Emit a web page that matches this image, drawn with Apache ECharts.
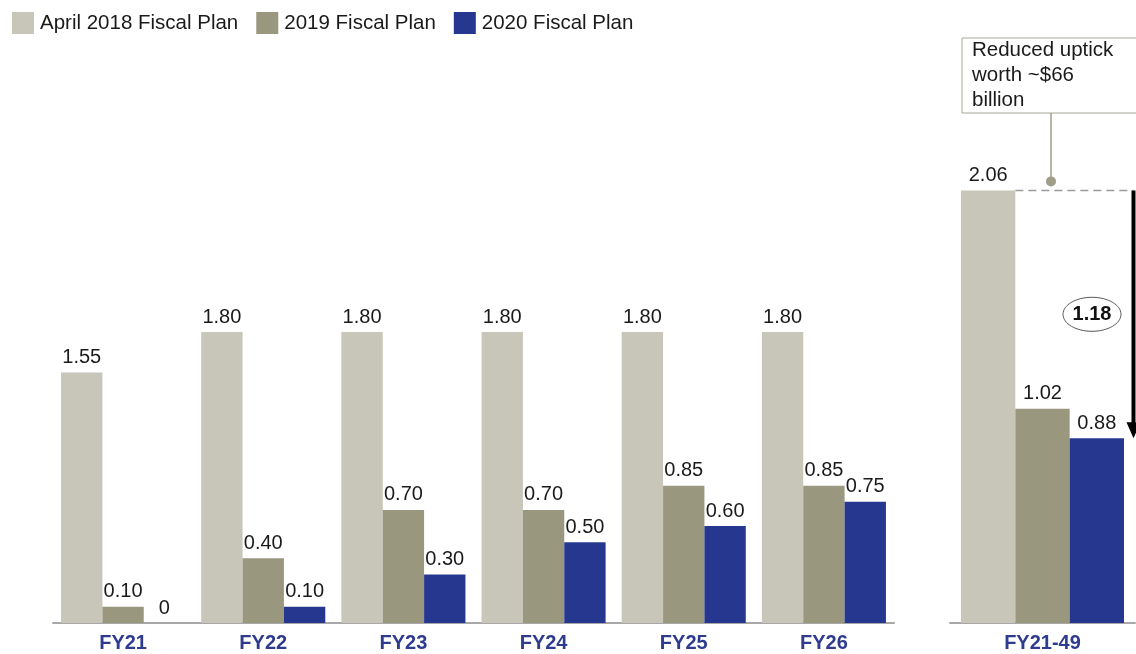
<!DOCTYPE html>
<html lang="en">
<head>
    <meta charset="UTF-8">
    <title>Fiscal Plan uptick</title>
    <script type="text/javascript" src="https://cdn.jsdelivr.net/npm/echarts@6/dist/echarts.min.js"></script>
    <style>
        html, body { margin: 0; padding: 0; background: #fff; }
        #main { width: 1136px; height: 654px; }
    </style>
</head>
<body>
<div id="main"></div>
<script type="text/javascript">
    // yearly values
    var categories = ['FY21', 'FY22', 'FY23', 'FY24', 'FY25', 'FY26'];
    var april2018 = [1.55, 1.80, 1.80, 1.80, 1.80, 1.80];
    var plan2019 = [0.10, 0.40, 0.70, 0.70, 0.85, 0.85];
    var plan2020 = [0, 0.10, 0.30, 0.50, 0.60, 0.75];

    // cumulative panel
    var totalCategory = ['FY21-49'];
    var totalApril2018 = [2.06];
    var totalPlan2019 = [1.02];
    var totalPlan2020 = [0.88];

    var seriesNames = ['April 2018 Fiscal Plan', '2019 Fiscal Plan', '2020 Fiscal Plan'];
    var colors = ['#c7c6b9', '#9a977f', '#263790'];
    var gapText = '1.18';
    var noteLines = ['Reduced uptick', 'worth ~$66', 'billion'];

    var fontFam = '"Liberation Sans", Arial, sans-serif';
    var gridB = { left: 950, width: 185 };
    var gapB = 0.119;

    var dom = document.getElementById('main');
    var myChart = echarts.init(dom);

    function fmt(p) {
        return p.value === 0 ? '0' : p.value.toFixed(2);
    }

    function barSeries(name, data, idx, color, gap) {
        return {
            type: 'bar',
            name: name,
            xAxisIndex: idx,
            yAxisIndex: idx,
            data: data,
            barGap: 0,
            barCategoryGap: gap,
            itemStyle: { color: color },
            label: {
                show: true,
                position: 'top',
                distance: 5,
                formatter: fmt,
                color: '#1a1a1a',
                fontSize: 20,
                fontFamily: fontFam
            },
            emphasis: { disabled: true }
        };
    }

    var axisX = function (data, idx) {
        return {
            type: 'category',
            gridIndex: idx,
            data: data,
            axisTick: { show: false },
            axisLine: { lineStyle: { color: '#a8a8a8', width: 2 } },
            axisLabel: {
                color: '#2f3b8f',
                fontSize: 20,
                fontWeight: 'bold',
                fontFamily: fontFam,
                margin: 10
            }
        };
    };
    var axisY = function (idx) {
        return {
            type: 'value',
            gridIndex: idx,
            min: 0,
            max: 2.5,
            show: false,
            splitLine: { show: false }
        };
    };

    var option = {
        animation: false,
        legend: {
            data: seriesNames,
            left: 7,
            top: 7,
            icon: 'rect',
            itemWidth: 22,
            itemHeight: 22,
            itemGap: 18,
            textStyle: { fontSize: 20.5, color: '#1a1a1a', fontFamily: fontFam, padding: [0, 0, 0, 1] }
        },
        grid: [
            { left: 53, width: 841, top: 219, bottom: 31 },
            { left: gridB.left, width: gridB.width, top: 98, bottom: 31 }
        ],
        xAxis: [axisX(categories, 0), axisX(totalCategory, 1)],
        yAxis: [axisY(0), axisY(1)],
        series: [
            barSeries(seriesNames[0], april2018, 0, colors[0], '11.5%'),
            barSeries(seriesNames[1], plan2019, 0, colors[1], '11.5%'),
            barSeries(seriesNames[2], plan2020, 0, colors[2], '11.5%'),
            barSeries(seriesNames[0], totalApril2018, 1, colors[0], (gapB * 100) + '%'),
            barSeries(seriesNames[1], totalPlan2019, 1, colors[1], (gapB * 100) + '%'),
            barSeries(seriesNames[2], totalPlan2020, 1, colors[2], (gapB * 100) + '%')
        ]
    };
    myChart.setOption(option);

    // annotations for the cumulative panel, anchored on the axes
    var topPt = myChart.convertToPixel({ xAxisIndex: 1, yAxisIndex: 1 }, [0, totalApril2018[0]]);
    var lowPt = myChart.convertToPixel({ xAxisIndex: 1, yAxisIndex: 1 }, [0, totalPlan2020[0]]);
    var cx = topPt[0];
    var barW = gridB.width * (1 - gapB) / 3;
    var arrowX = cx + 1.5 * barW + 9.5;
    var midY = (topPt[1] + lowPt[1]) / 2;
    var boxTop = 38, boxBottom = 113;

    var graphics = [
        {
            type: 'line',
            shape: { x1: cx - barW / 2, y1: topPt[1], x2: arrowX, y2: topPt[1] },
            style: { stroke: '#9a9a9a', lineWidth: 1.5, lineDash: [8, 5] }
        },
        {
            type: 'line',
            shape: { x1: arrowX, y1: topPt[1], x2: arrowX, y2: lowPt[1] - 14 },
            style: { stroke: '#000', lineWidth: 4 }
        },
        {
            type: 'polygon',
            shape: { points: [[arrowX - 7, lowPt[1] - 16], [arrowX + 7, lowPt[1] - 16], [arrowX, lowPt[1]]] },
            style: { fill: '#000' }
        },
        {
            type: 'ellipse',
            shape: { cx: cx + 49.5, cy: midY, rx: 29, ry: 17 },
            style: { fill: '#fff', stroke: '#555', lineWidth: 1 }
        },
        {
            type: 'text',
            x: cx + 49.5, y: midY,
            style: {
                text: gapText, fontSize: 20, fontWeight: 'bold', fontFamily: fontFam,
                fill: '#111', align: 'center', verticalAlign: 'middle'
            }
        },
        {
            type: 'rect',
            shape: { x: 962, y: boxTop, width: 190, height: boxBottom - boxTop },
            style: { fill: '#fff', stroke: '#a9a898', lineWidth: 1 }
        },
        {
            type: 'line',
            shape: { x1: cx + 8.5, y1: boxBottom, x2: cx + 8.5, y2: topPt[1] - 9 },
            style: { stroke: '#a09e88', lineWidth: 1.5 }
        },
        {
            type: 'circle',
            shape: { cx: cx + 8.5, cy: topPt[1] - 9, r: 5 },
            style: { fill: '#a09e88' }
        }
    ];
    noteLines.forEach(function (t, i) {
        graphics.push({
            type: 'text',
            x: 972, y: 50 + i * 25,
            style: {
                text: t, fontSize: 20.5, fontFamily: fontFam, fill: '#1a1a1a',
                align: 'left', verticalAlign: 'middle'
            }
        });
    });
    myChart.setOption({ graphic: graphics });
</script>
</body>
</html>
